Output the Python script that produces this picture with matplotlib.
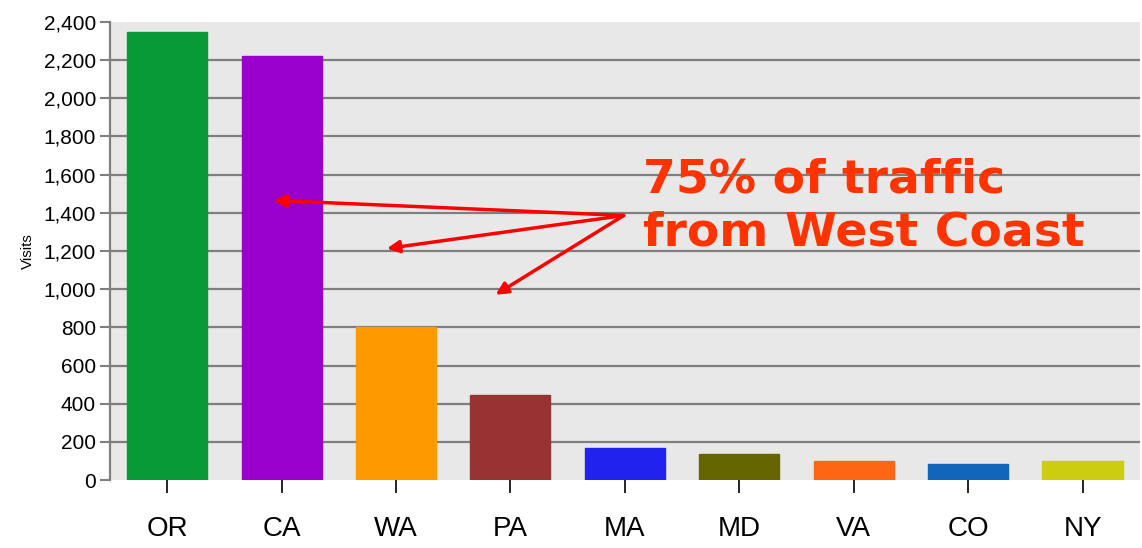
import matplotlib
matplotlib.use("Agg")
import matplotlib.pyplot as plt

states = ["OR", "CA", "WA", "PA", "MA", "MD", "VA", "CO", "NY"]
visits = [2345, 2220, 800, 448, 170, 136, 100, 86, 100]
colors = ["#079a37", "#9900cc", "#ff9900", "#993333", "#2222ee",
          "#666600", "#ff6611", "#1166bb", "#cccc11"]
yticks = list(range(0, 2401, 200))
ytick_labels = [f"{v:,}" for v in yticks]
note = "75% of traffic\nfrom West Coast"
arrow_from = (3.99, 1386)
arrow_to = [(0.93, 1465), (1.92, 1213), (2.87, 971)]

fig = plt.figure(figsize=(11.42, 5.48), dpi=100)
ax = fig.add_axes([0.0963, 0.124, 0.9017, 0.836])
ax.set_facecolor("#e8e8e8")

x = list(range(len(states)))
ax.bar(x, visits, width=0.7, color=colors, edgecolor=colors,
       linewidth=1, zorder=3)

ax.set_xlim(-0.5, len(states) - 0.5)
ax.set_ylim(0, 2400)
ax.set_yticks(yticks)
ax.set_yticklabels(ytick_labels, fontsize=15, family="Liberation Sans")
ax.set_xticks(x)
ax.set_xticklabels(states, fontsize=20, family="Liberation Sans")
ax.tick_params(axis="x", length=9, width=1.2, pad=17)
ax.tick_params(axis="y", length=7, width=1.5, color="#808080", pad=3)
for t, c in zip(ax.xaxis.get_major_ticks(), colors):
    t.tick1line.set_color(c)

for v in yticks[1:-1]:
    ax.axhline(v, color="#7f7f7f", linewidth=1.6, zorder=1)

for s in ["top", "right", "bottom"]:
    ax.spines[s].set_visible(False)
ax.spines["left"].set_color("#808080")
ax.spines["left"].set_linewidth(1.6)

ax.set_ylabel("Visits", fontsize=11, family="Liberation Sans", labelpad=6)

ax.text(4.16, 1432, note, fontsize=34, fontweight="bold", color="#ff3300",
        ha="left", va="center", family="DejaVu Sans", linespacing=1.22, zorder=5)
for tx, ty in arrow_to:
    ax.annotate("", xy=(tx, ty), xytext=arrow_from,
                arrowprops=dict(arrowstyle="-|>", color="#ff0000", lw=2.5,
                                mutation_scale=18, shrinkA=0, shrinkB=0),
                zorder=6)

fig.savefig("out.png", dpi=100)
